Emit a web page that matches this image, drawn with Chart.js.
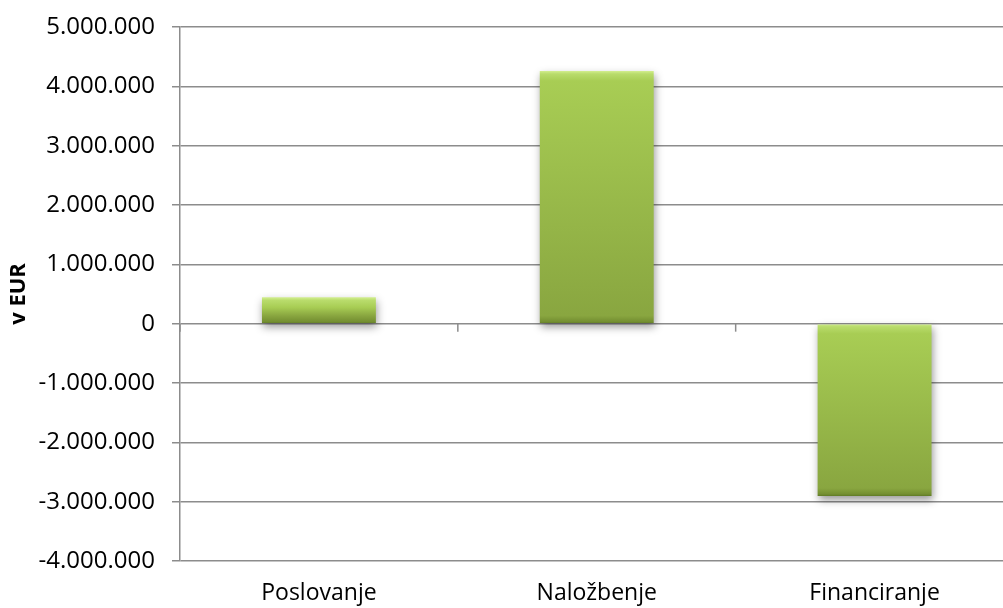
<!DOCTYPE html>
<html>
<head>
<meta charset="utf-8">
<script src="https://cdn.jsdelivr.net/npm/chart.js@4.4.1/dist/chart.umd.min.js"></script>
<style>
  html, body { margin: 0; padding: 0; background: #fff; overflow: hidden; }
  .chart-wrap { position: relative; width: 1020px; height: 608px; }
</style>
</head>
<body>
<div class="chart-wrap"><canvas id="cashChart"></canvas></div>
<script>
const categories = ['Poslovanje', 'Naložbenje', 'Financiranje'];
const values = [445000, 4260000, -2905000];
const yTicks = { min: -4000000, max: 5000000, step: 1000000 };
const axisTitle = 'v EUR';

const gridColor = '#8c8c8c';

function formatEur(v) {
  return String(v).replace(/\B(?=(\d{3})+(?!\d))/g, '.');
}

function barFill(ctx) {
  const { chart } = ctx;
  if (!chart.chartArea || ctx.raw === undefined) return '#a4c94f';
  const y = chart.scales.y;
  const top = y.getPixelForValue(Math.max(ctx.raw, 0));
  const bottom = y.getPixelForValue(Math.min(ctx.raw, 0));
  const h = Math.max(bottom - top, 1);
  const s = (px) => Math.min(Math.max(px / h, 0), 1);
  const g = chart.ctx.createLinearGradient(0, top, 0, bottom);
  g.addColorStop(0, '#d3ef90');
  g.addColorStop(s(3), '#b9dc6c');
  g.addColorStop(s(10), '#a8cd54');
  g.addColorStop(1 - s(8), '#89a640');
  g.addColorStop(1 - s(2), '#748f31');
  g.addColorStop(1, '#5f7a25');
  return g;
}

// soft drop shadow under the bars
const barShadow = {
  id: 'barShadow',
  beforeDatasetsDraw(chart) {
    const c = chart.ctx;
    c.save();
    c.shadowColor = 'rgba(0,0,0,0.4)';
    c.shadowBlur = 8;
    c.shadowOffsetX = 1;
    c.shadowOffsetY = 4;
  },
  afterDatasetsDraw(chart) {
    chart.ctx.restore();
  }
};

// category tick marks on the zero line
const zeroTicks = {
  id: 'zeroTicks',
  afterDraw(chart) {
    const x = chart.scales.x;
    const y0 = chart.scales.y.getPixelForValue(0);
    const c = chart.ctx;
    c.save();
    c.strokeStyle = gridColor;
    c.lineWidth = 1.5;
    for (let i = 0; i <= categories.length; i++) {
      const px = x.getPixelForValue(i - 0.5);
      c.beginPath();
      c.moveTo(px, y0);
      c.lineTo(px, y0 + 8);
      c.stroke();
    }
    c.restore();
  }
};

new Chart(document.querySelector('#cashChart'), {
  type: 'bar',
  data: {
    labels: categories,
    datasets: [
      {
        data: values,
        backgroundColor: barFill,
        borderWidth: 0,
        barPercentage: 0.41,
        categoryPercentage: 1
      }
    ]
  },
  plugins: [barShadow, zeroTicks],
  options: {
    responsive: true,
    maintainAspectRatio: false,
    animation: false,
    layout: { padding: { left: 0, right: 6.5, top: 27, bottom: 0 } },
    plugins: {
      legend: { display: false },
      tooltip: { enabled: false }
    },
    scales: {
      x: {
        grid: { display: false, drawTicks: false },
        border: { display: false },
        ticks: {
          color: '#000',
          padding: 19,
          font: { family: 'Open Sans', size: 23 }
        },
        afterFit(scale) {
          scale.height = 47;
          scale.paddingLeft = 0;
          scale.paddingRight = 0;
        }
      },
      y: {
        min: yTicks.min,
        max: yTicks.max,
        grid: { color: gridColor, lineWidth: 1.5, tickLength: 8, drawTicks: true },
        border: { display: true, color: gridColor, width: 1.5 },
        ticks: {
          stepSize: yTicks.step,
          color: '#000',
          padding: 17,
          font: { family: 'Open Sans', size: 24 },
          callback: (v) => formatEur(v)
        },
        title: {
          display: true,
          text: axisTitle,
          color: '#000',
          padding: { top: 6, bottom: 0 },
          font: { family: 'Open Sans', size: 22, weight: 'bold' }
        },
        afterFit(scale) {
          scale.width = 180;
          scale.paddingTop = 0;
          scale.paddingBottom = 0;
        }
      }
    }
  }
});
</script>
</body>
</html>
